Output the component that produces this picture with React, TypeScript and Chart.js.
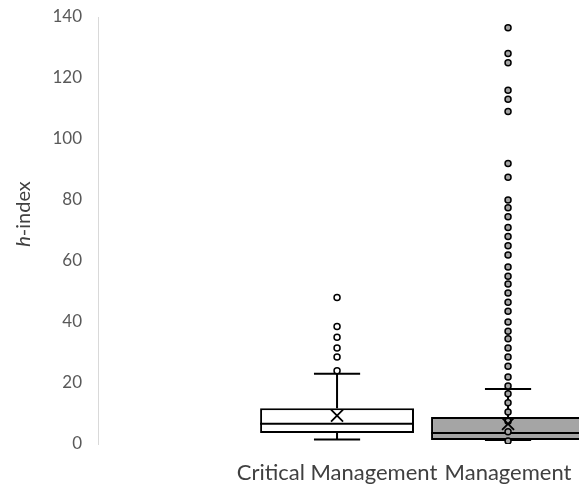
import React, { useEffect, useRef } from "react";
import { Chart, registerables } from "chart.js";

Chart.register(...registerables);

// ---- data ----
const categories = ["Critical Management", "Management"];
const categoryX = [1, 2];
const q1 = [3.6, 1.3];
const q3 = [11.7, 8.85];
const medians = [6.6, 3.6];
const means = [9.3, 6.6];
const whiskerLow = [1.5, 1.3];
const whiskerHigh = [23, 18];
const criticalPoints = [24, 28.5, 31.5, 35, 38.5, 48];
const managementPoints = [
  1, 4, 7.5, 10.5, 13.5, 16.5, 19, 22, 25.5, 28.5, 31.5, 34.5, 37, 40, 43.5,
  46.5, 49.5, 52.5, 55, 58, 62, 65, 68, 71, 74.5, 77.5, 80, 87.5, 92, 109, 113,
  116, 125, 128, 136.5,
];
const yTicksMax = 140;
const yStep = 20;

const FONT = "Lato";
const X_MIN = -0.398;
const X_MAX = 2.415;
const CAP_HALF = 0.135;

const boxPlugin = {
  id: "boxParts",
  afterDatasetDraw(chart: any, args: any) {
    if (args.index !== 0) return;
    const ctx = chart.ctx;
    const xs = chart.scales.x;
    const ys = chart.scales.y;
    ctx.save();
    ctx.strokeStyle = "#000";
    categoryX.forEach((cx, i) => {
      const px = xs.getPixelForValue(cx);
      const meta = chart.getDatasetMeta(0);
      const bar = meta.data[i];
      const half = bar.width / 2;
      // median
      ctx.lineWidth = 2;
      ctx.beginPath();
      const my = ys.getPixelForValue(medians[i]);
      ctx.moveTo(px - half, my);
      ctx.lineTo(px + half, my);
      ctx.stroke();
      // whiskers
      ctx.lineWidth = 2;
      const capL = xs.getPixelForValue(cx - CAP_HALF);
      const capR = xs.getPixelForValue(cx + CAP_HALF);
      const top = ys.getPixelForValue(q3[i]);
      const bot = ys.getPixelForValue(q1[i]);
      const wh = ys.getPixelForValue(whiskerHigh[i]);
      const wl = ys.getPixelForValue(whiskerLow[i]);
      ctx.beginPath();
      ctx.moveTo(px, top);
      ctx.lineTo(px, wh);
      ctx.moveTo(capL, wh);
      ctx.lineTo(capR, wh);
      ctx.moveTo(px, bot);
      ctx.lineTo(px, wl);
      ctx.moveTo(capL, wl);
      ctx.lineTo(capR, wl);
      ctx.stroke();
    });
    ctx.restore();
  },
  afterDraw(chart: any) {
    const ctx = chart.ctx;
    ctx.save();
    ctx.translate(24, 214);
    ctx.rotate(-Math.PI / 2);
    ctx.fillStyle = "#404040";
    ctx.textBaseline = "middle";
    const fi = `italic 20px ${FONT}`;
    const fn = `20px ${FONT}`;
    ctx.font = fi;
    const w1 = ctx.measureText("h").width;
    ctx.font = fn;
    const w2 = ctx.measureText("-index").width;
    const start = -(w1 + w2) / 2;
    ctx.font = fi;
    ctx.textAlign = "left";
    ctx.fillText("h", start, 0);
    ctx.font = fn;
    ctx.fillText("-index", start + w1, 0);
    ctx.restore();
  },
};

export default function App() {
  const ref = useRef<HTMLCanvasElement | null>(null);
  useEffect(() => {
    if (!ref.current) return;
    const chart = new Chart(ref.current, {
      type: "bar",
      data: {
        datasets: [
          {
            type: "bar",
            data: categoryX.map((x, i) => ({ x, y: [q1[i], q3[i]] })) as any,
            backgroundColor: ["#ffffff", "#a5a5a5"],
            borderColor: "#000",
            borderWidth: 2,
            borderSkipped: false,
            barPercentage: 0.9,
            categoryPercentage: 1,
            order: 3,
          } as any,
          {
            type: "scatter",
            data: criticalPoints.map((y) => ({ x: categoryX[0], y })),
            pointRadius: 3,
            pointBorderWidth: 1.5,
            pointBorderColor: "#000",
            pointBackgroundColor: "#ffffff",
            order: 2,
          } as any,
          {
            type: "scatter",
            data: managementPoints.map((y) => ({ x: categoryX[1], y })),
            pointRadius: 3,
            pointBorderWidth: 1.5,
            pointBorderColor: "#000",
            pointBackgroundColor: "#a5a5a5",
            order: 2,
          } as any,
          {
            type: "scatter",
            data: means.map((y, i) => ({ x: categoryX[i], y })),
            pointStyle: "crossRot",
            pointRadius: 8.5,
            pointBorderWidth: 1.8,
            pointBorderColor: "#000",
            order: 1,
          } as any,
        ],
      },
      options: {
        animation: false,
        responsive: false,
        maintainAspectRatio: false,
        layout: { autoPadding: false, padding: { top: 17, left: 0, right: 0, bottom: 0 } },
        plugins: { legend: { display: false }, tooltip: { enabled: false } },
        scales: {
          x: {
            type: "linear",
            min: X_MIN,
            max: X_MAX,
            offset: false,
            grid: { display: false, drawTicks: false },
            border: { display: false },
            afterBuildTicks: (scale: any) => {
              scale.ticks = categoryX.map((v) => ({ value: v }));
            },
            afterFit: (scale: any) => {
              scale.height = 40;
              scale.paddingLeft = 0;
              scale.paddingRight = 0;
            },
            ticks: {
              autoSkip: false,
              maxRotation: 0,
              padding: 16,
              color: "#404040",
              font: { family: FONT, size: 22 },
              callback: (v: any) => {
                const idx = categoryX.indexOf(Number(v));
                return idx >= 0 ? categories[idx] : "";
              },
            },
          },
          y: {
            min: 0,
            max: yTicksMax,
            grid: { display: false, drawTicks: false },
            border: { display: true, color: "#d9d9d9", width: 1 },
            afterFit: (scale: any) => {
              scale.width = 98;
              scale.paddingTop = 0;
              scale.paddingBottom = 0;
            },
            ticks: {
              stepSize: yStep,
              padding: 16,
              color: "#595959",
              font: { family: FONT, size: 17 },
            },
          },
        },
      },
      plugins: [boxPlugin],
    });
    return () => chart.destroy();
  }, []);
  return (
    <div style={{ position: "fixed", left: 0, top: 0, width: 579, height: 484, background: "#fff" }}>
      <canvas ref={ref} width={579} height={484} style={{ width: 579, height: 484 }} />
    </div>
  );
}
